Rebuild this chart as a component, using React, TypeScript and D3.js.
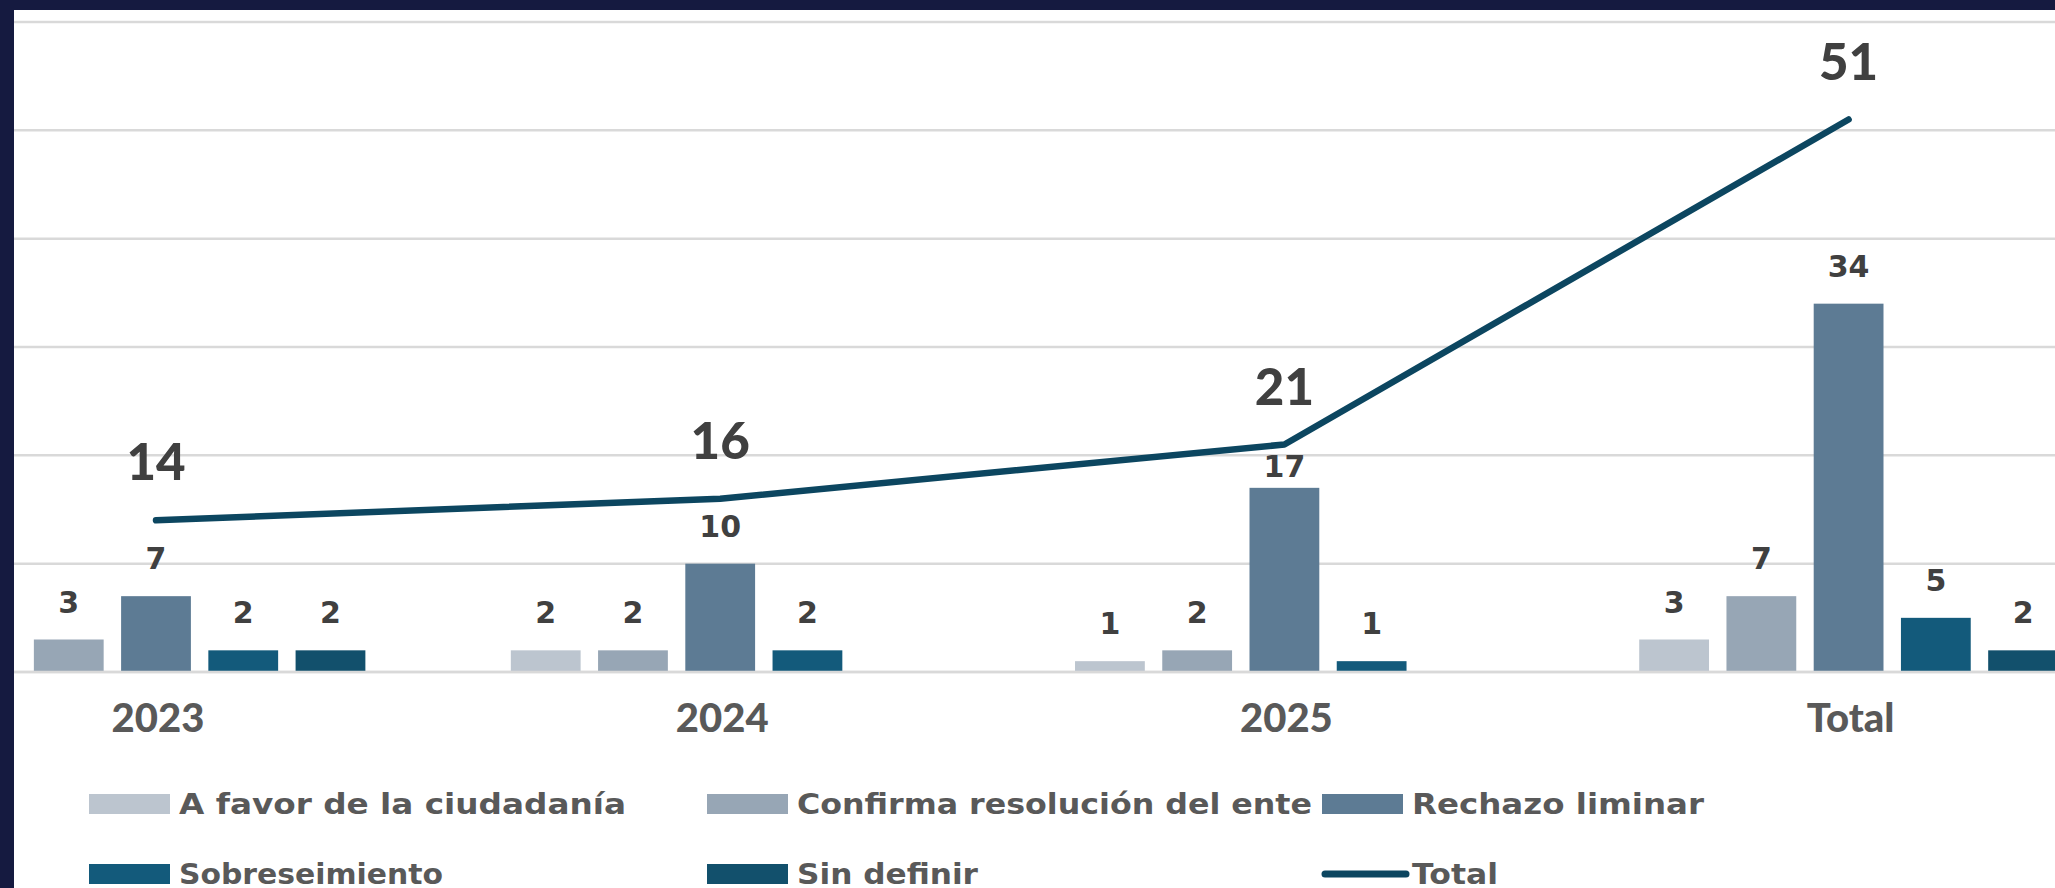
import React from "react";
import * as d3 from "d3";

const categories = ["2023", "2024", "2025", "Total"];
const seriesNames = [
  "A favor de la ciudadanía",
  "Confirma resolución del ente",
  "Rechazo liminar",
  "Sobreseimiento",
  "Sin definir",
];
const aFavor: (number | null)[] = [null, 2, 1, 3];
const confirma: (number | null)[] = [3, 2, 2, 7];
const rechazo: (number | null)[] = [7, 10, 17, 34];
const sobreseimiento: (number | null)[] = [2, 2, 1, 5];
const sinDefinir: (number | null)[] = [2, null, null, 2];
const totals = [14, 16, 21, 51];
const yTicks = [0, 10, 20, 30, 40, 50, 60];

const seriesValues = [aFavor, confirma, rechazo, sobreseimiento, sinDefinir];
const seriesColors = ["#bcc5cf", "#97a6b5", "#5d7b94", "#135a7b", "#12506c"];
const lineColor = "#0c4660";

const W = 2055;
const H = 888;
const FONT = "Lato, 'Open Sans', sans-serif";
const LEGEND_FONT = "'DejaVu Sans', Lato, sans-serif";

export default function App() {
  const step = 564.2;
  const firstCenter = 156;
  const x0 = d3
    .scaleBand<string>()
    .domain(categories)
    .range([firstCenter - step / 2, firstCenter - step / 2 + step * categories.length])
    .paddingInner(0)
    .paddingOuter(0);
  const x1 = d3
    .scaleBand<string>()
    .domain(seriesNames)
    .range([64, step - 64])
    .paddingInner(0.2)
    .paddingOuter(0.1);
  const y = d3.scaleLinear().domain([0, 60]).range([672, 22]);

  const cx = (c: string) => (x0(c) ?? 0) + x0.bandwidth() / 2;

  const line = d3
    .line<number>()
    .x((_, i) => cx(categories[i]))
    .y((d) => y(d));

  // label offsets (manual adjustment seen in reference)
  const labelGap = (ci: number, si: number) => (ci === 2 && si === 2 ? 11 : 27);

  const legendCols = [89, 707, 1322];
  const legendRows = [794, 864];
  const legendTextWidths = [447, 515, 292, 264, 181, 86];
  const legendItems = [...seriesNames, "Total"];

  return (
    <svg
      width={W}
      height={H}
      style={{ position: "absolute", left: 0, top: 0, display: "block" }}
      fontFamily={FONT}
    >
      <rect x={0} y={0} width={W} height={H} fill="#ffffff" />
      {/* gridlines */}
      {yTicks.map((t) => (
        <line
          key={t}
          x1={14}
          x2={W}
          y1={y(t)}
          y2={y(t)}
          stroke="#d9d9d9"
          strokeWidth={2.5}
        />
      ))}
      {/* bars */}
      {categories.map((c, ci) => (
        <g key={c} transform={`translate(${x0(c)},0)`}>
          {seriesNames.map((s, si) => {
            const v = seriesValues[si][ci];
            if (v == null) return null;
            const bx = x1(s) ?? 0;
            return (
              <g key={s}>
                <rect
                  x={bx}
                  y={y(v)}
                  width={x1.bandwidth()}
                  height={y(0) - y(v)}
                  fill={seriesColors[si]}
                />
                <text
                  x={bx + x1.bandwidth() / 2}
                  y={y(v) - labelGap(ci, si)}
                  textAnchor="middle"
                  fontSize={30}
                  fontWeight={700}
                  fill="#404040"
                  fontFamily={LEGEND_FONT}
                >
                  {v}
                </text>
              </g>
            );
          })}
        </g>
      ))}
      {/* baseline redraw */}
      <line x1={14} x2={W} y1={y(0)} y2={y(0)} stroke="#d9d9d9" strokeWidth={2.5} />
      {/* total line */}
      <path
        d={line(totals) ?? ""}
        fill="none"
        stroke={lineColor}
        strokeWidth={6.5}
        strokeLinejoin="round"
        strokeLinecap="round"
      />
      {totals.map((t, i) => (
        <text
          key={i}
          x={cx(categories[i])}
          y={y(t) - 40}
          textAnchor="middle"
          fontSize={51}
          fontWeight={900}
          fill="#404040"
        >
          {t}
        </text>
      ))}
      {/* x axis labels */}
      {categories.map((c) => (
        <text
          key={c}
          x={cx(c) + 2}
          y={732}
          textAnchor="middle"
          fontSize={40}
          fontWeight={900}
          fill="#595959"
        >
          {c}
        </text>
      ))}
      {/* legend */}
      {legendItems.map((name, i) => {
        const col = i % 3;
        const row = Math.floor(i / 3);
        const lx = legendCols[col];
        const ly = legendRows[row];
        return (
          <g key={name}>
            {i < 5 ? (
              <rect x={lx} y={ly} width={81} height={20} fill={seriesColors[i]} />
            ) : (
              <line
                x1={lx + 3}
                x2={lx + 84}
                y1={ly + 10}
                y2={ly + 10}
                stroke={lineColor}
                strokeWidth={7}
                strokeLinecap="round"
              />
            )}
            <text
              x={lx + 90}
              y={ly + 20}
              fontSize={28}
              fontWeight={700}
              fill="#595959"
              fontFamily={LEGEND_FONT}
              textLength={legendTextWidths[i]}
              lengthAdjust="spacingAndGlyphs"
            >
              {name}
            </text>
          </g>
        );
      })}
      {/* dark frame */}
      <rect x={0} y={0} width={W} height={10} fill="#151a40" />
      <rect x={0} y={0} width={14} height={H} fill="#151a40" />
    </svg>
  );
}
